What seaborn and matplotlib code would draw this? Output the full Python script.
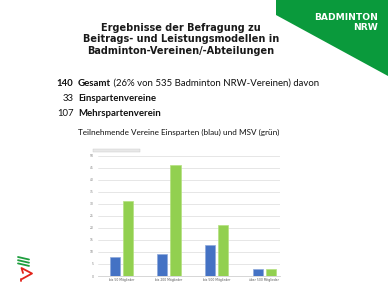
import matplotlib
matplotlib.use("Agg")
import matplotlib.pyplot as plt
import seaborn as sns
import pandas as pd
from matplotlib.patches import Polygon, Rectangle
from matplotlib.lines import Line2D

# ---- data ----
categories = ["bis 50 Mitglieder", "bis 200 Mitglieder", "bis 500 Mitglieder", "über 500 Mitglieder"]
einsparten = [8, 9, 13, 3]
msv = [31, 46, 21, 3]
series_names = ["Einsparten", "MSV"]
yticks = [0, 5, 10, 15, 20, 25, 30, 35, 40, 45, 50]

title_lines = ["Ergebnisse der Befragung zu",
               "Beitrags- und Leistungsmodellen in",
               "Badminton-Vereinen/-Abteilungen"]
summary_numbers = ["140", "33", "107"]
summary_labels = ["Gesamt", "Einspartenvereine", "Mehrspartenverein"]
summary_extra = " (26% von 535 Badminton NRW-Vereinen) davon"
chart_subtitle = "Teilnehmende Vereine Einsparten (blau) und MSV (grün)"

BLUE = "#4472C4"
GREEN = "#92D050"
LOGO_GREEN = "#0A9A3C"

W, H = 388, 291
sns.set_theme(style="white")
plt.rcParams['font.family'] = ['DejaVu Sans']
fig = plt.figure(figsize=(W / 100, H / 100), dpi=100)
fig.patch.set_facecolor("white")


def P(x, y):
    return (x / W, 1 - y / H)


# ---- top-right logo ----
logo = Polygon([P(276, 0), P(388, 0), P(388, 76), P(276, 15)], closed=True,
               transform=fig.transFigure, facecolor=LOGO_GREEN, edgecolor="none")
fig.patches.append(logo)
fig.text(*P(378, 18), "BADMINTON", ha="right", va="center", color="white",
         fontsize=6.6, fontweight="bold", family="DejaVu Sans")
fig.text(*P(378, 27.5), "NRW", ha="right", va="center", color="white",
         fontsize=6.6, fontweight="bold", family="DejaVu Sans")

# ---- title ----
fig.text(*P(181, 39.5), "\n".join(title_lines), ha="center", va="center",
         fontsize=7.0, fontweight="bold", color="#1a1a1a", linespacing=1.13,
         family="DejaVu Sans")

# ---- summary lines ----
body_font = "Lato"
ys = [83, 98.5, 113.5]
fig.canvas.draw()
renderer = fig.canvas.get_renderer()
for i, (num, lab, y) in enumerate(zip(summary_numbers, summary_labels, ys)):
    fig.text(*P(73.5, y), num, ha="right", va="center", fontsize=6.9,
             fontweight="bold" if i == 0 else "normal", color="#111111", family=body_font)
    t = fig.text(*P(78, y), lab, ha="left", va="center", fontsize=6.9,
                 fontweight="bold", color="#111111", family=body_font)
    if i == 0:
        bb = t.get_window_extent(renderer)
        fig.text(bb.x1 / W, 1 - y / H, summary_extra, ha="left", va="center",
                 fontsize=6.9, color="#111111", family=body_font)

fig.text(*P(78, 132), chart_subtitle, ha="left", va="center", fontsize=5.85,
         color="#111111", family=body_font)

# ---- chart ----
ax = fig.add_axes([98 / W, 1 - 276 / H, (280 - 98) / W, (276 - 155.7) / H])
df = pd.DataFrame({
    "Kategorie": categories * 2,
    "Serie": [series_names[0]] * len(categories) + [series_names[1]] * len(categories),
    "Wert": einsparten + msv,
})
sns.barplot(data=df, x="Kategorie", y="Wert", hue="Serie", hue_order=series_names,
            order=categories, palette=[BLUE, GREEN], width=0.546, gap=0.23,
            legend=False, ax=ax, saturation=1)
for bar, ec in zip(ax.patches, ["#8EA9DB"] * 4 + ["#B4E07F"] * 4):
    bar.set_edgecolor(ec)
    bar.set_linewidth(0.5)

ax.set_ylim(0, 50)
ax.set_xlim(-0.49, 3.33)
ax.set_yticks(yticks)
ax.set_yticklabels([str(v) for v in yticks], fontsize=2.2, color="#777777")
ax.tick_params(axis="both", length=0, pad=3)
ax.set_xticks(range(len(categories)))
ax.set_xticklabels(categories, fontsize=2.2, color="#555555")
ax.tick_params(axis="x", pad=1.5)
ax.set_xlabel("")
ax.set_ylabel("")
ax.yaxis.grid(True, color="#e2e2e2", linewidth=0.6)
ax.set_axisbelow(True)
for s in ["top", "right", "left"]:
    ax.spines[s].set_visible(False)
ax.spines["bottom"].set_color("#d0d0d0")
ax.spines["bottom"].set_linewidth(0.6)

# small label box at top-left of chart
fig.patches.append(Rectangle(P(93, 151.7), 47 / W, 2.7 / H, transform=fig.transFigure,
                             facecolor="#e8e8e8", edgecolor="#c8c8c8", linewidth=0.3))

# ---- bottom-left small logo ----
for k in range(3):
    y0 = 257 + k * 3.2
    fig.lines.append(Line2D([18 / W, 29 / W], [1 - y0 / H, 1 - (y0 + 2.5) / H],
                            transform=fig.transFigure, color="#1E9E3E", linewidth=1.3))
fig.lines.append(Line2D([23 / W, 21.5 / W, 32 / W, 22 / W],
                        [1 - 273 / H, 1 - 268 / H, 1 - 273.5 / H, 1 - 279 / H],
                        transform=fig.transFigure, color="#E2231A", linewidth=1.3))
fig.lines.append(Line2D([20.5 / W, 20.5 / W], [1 - 278.5 / H, 1 - 280.5 / H],
                        transform=fig.transFigure, color="#E2231A", linewidth=1.3))

fig.savefig("out.png", dpi=100)
